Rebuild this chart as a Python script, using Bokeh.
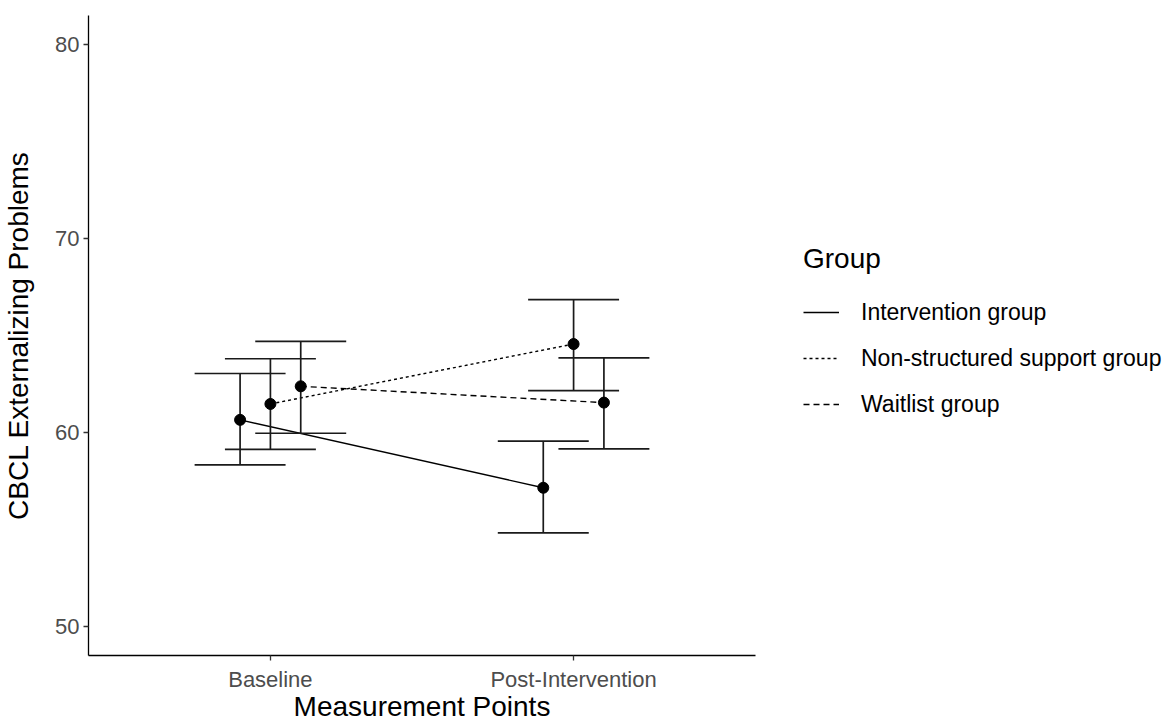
from bokeh.plotting import figure
from bokeh.models import ColumnDataSource, FixedTicker, Legend, LegendItem, Range1d
from bokeh.embed import file_html
from bokeh.resources import INLINE

# ---- data ----
categories = ["Baseline", "Post-Intervention"]
groups = ["Intervention group", "Non-structured support group", "Waitlist group"]

mean_intervention = [60.65, 57.15]
lower_intervention = [58.33, 54.82]
upper_intervention = [63.04, 59.55]

mean_nonstructured = [61.47, 64.56]
lower_nonstructured = [59.13, 62.16]
upper_nonstructured = [63.80, 66.85]

mean_waitlist = [62.38, 61.54]
lower_waitlist = [59.96, 59.15]
upper_waitlist = [64.70, 63.85]

y_ticks = [50, 60, 70, 80]

# ---- styling ----
FONT = "Liberation Sans"
dodge_offsets = [-0.1, 0.0, 0.1]
cap_half = 0.15
dashes = ["solid", "3 3", "6 4"]

series = [
    (mean_intervention, lower_intervention, upper_intervention),
    (mean_nonstructured, lower_nonstructured, upper_nonstructured),
    (mean_waitlist, lower_waitlist, upper_waitlist),
]

p = figure(
    frame_width=667, frame_height=640,
    min_border_left=88, min_border_top=15, min_border_right=400, min_border_bottom=62,
    x_range=Range1d(0.4, 2.6), y_range=Range1d(48.5, 81.5),
    output_backend="svg", toolbar_location=None,
)
p.outline_line_color = None
p.xgrid.visible = False
p.ygrid.visible = False
p.background_fill_color = "white"
p.border_fill_color = "white"

base_x = [i + 1 for i in range(len(categories))]

items = []
for gi, (name, (m, lo, hi)) in enumerate(zip(groups, series)):
    xs = [b + dodge_offsets[gi] for b in base_x]
    src = ColumnDataSource(dict(
        x=xs, y=m, lo=lo, hi=hi,
        cx0=[x - cap_half for x in xs], cx1=[x + cap_half for x in xs],
    ))
    line_r = p.line("x", "y", source=src, line_color="black", line_width=1.4,
                    line_dash=dashes[gi])
    p.segment(x0="x", y0="lo", x1="x", y1="hi", source=src,
              line_color="#1a1a1a", line_width=1.7)
    p.segment(x0="cx0", y0="lo", x1="cx1", y1="lo", source=src,
              line_color="#1a1a1a", line_width=1.7)
    p.segment(x0="cx0", y0="hi", x1="cx1", y1="hi", source=src,
              line_color="#1a1a1a", line_width=1.7)
    p.scatter("x", "y", source=src, size=11, color="black")
    items.append(LegendItem(label=name, renderers=[line_r]))

# axes
for ax in (p.xaxis[0], p.yaxis[0]):
    ax.axis_line_color = "black"
    ax.axis_line_width = 1.3
    ax.major_tick_line_color = "#333333"
    ax.major_tick_line_width = 1.3
    ax.major_tick_out = 5
    ax.major_tick_in = 0
    ax.minor_tick_line_color = None
    ax.major_label_text_font = FONT
    ax.major_label_text_font_size = "22px"
    ax.major_label_text_color = "#4d4d4d"
    ax.axis_label_text_font = FONT
    ax.axis_label_text_font_size = "28px"
    ax.axis_label_text_font_style = "normal"
    ax.axis_label_text_color = "black"

p.xaxis.ticker = FixedTicker(ticks=base_x)
p.xaxis.major_label_overrides = {b: c for b, c in zip(base_x, categories)}
p.xaxis.axis_label = "Measurement Points"
p.xaxis.major_label_standoff = 6
p.xaxis.axis_label_standoff = -4

p.yaxis.ticker = FixedTicker(ticks=y_ticks)
p.yaxis.axis_label = "CBCL Externalizing Problems"
p.yaxis.major_label_standoff = 4
p.yaxis.axis_label_standoff = 18

legend = Legend(
    items=items, location=(48, 231),
    title="Group", title_text_font=FONT, title_text_font_size="28px",
    title_text_font_style="normal", title_text_color="black", title_standoff=17,
    label_text_font=FONT, label_text_font_size="23px", label_text_color="black",
    glyph_width=36, glyph_height=40, label_height=40, label_standoff=22,
    spacing=6, padding=0, margin=0,
    border_line_color=None, background_fill_alpha=0,
)
p.add_layout(legend, "right")

open("out.html", "w").write(file_html(p, INLINE))
